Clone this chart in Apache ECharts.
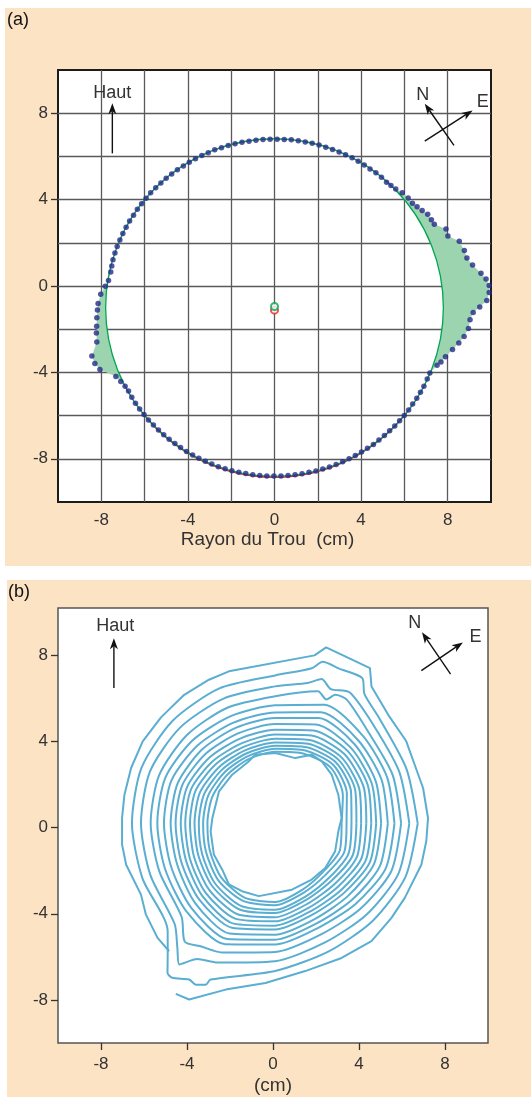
<!DOCTYPE html>
<html>
<head>
<meta charset="utf-8">
<script src="https://cdn.jsdelivr.net/npm/echarts@6/dist/echarts.min.js"></script>
<style>
  html, body { margin: 0; padding: 0; background: #fff; }
  #wrap { position: relative; width: 531px; height: 1097px; overflow: hidden; }
  .panel { position: absolute; background: #fce3c3; }
  #chart { position: absolute; left: 0; top: 0; width: 531px; height: 1097px; }
</style>
</head>
<body>
<div id="wrap">
  <div class="panel" style="left:5px;top:8px;width:526px;height:558px"></div>
  <div class="panel" style="left:7px;top:580px;width:524px;height:517px"></div>
  <div id="chart"></div>
</div>
<script>
// ---------- (a) measured hole profile vs fitted circle ----------
const fitCenter = [0, -1.0];       // centre of the fitted circle (cm)
const fitRadius = 7.8;             // radius of the fitted circle (cm)
const altCenter = [0, -1.12];      // second estimate of the centre (red)
const altRadius = 7.72;
const fitCenterMark = [0, -0.95];

// profile readings: polar angle (deg, about fitCenter) and radius (cm)
const profileAngle = [
  0.2, 1.9, 4.0, 5.9, 7.7, 9.5, 12.2, 14.5, 16.8, 19.8, 22.5, 24.7, 27.6, 29.3, 31.4, 33.4, 35.3, 37.2, 39.4, 42.0, 44.4, 46.4, 48.3,
  50.7, 53.1, 55.5, 57.9, 60.3, 62.7, 65.1, 67.5, 69.9, 72.3, 74.7, 77.1, 79.5, 81.9, 84.3, 86.7, 89.1, 91.5, 93.9, 96.3, 98.7,
  101.1, 103.5, 105.9, 108.3, 110.7, 113.1, 115.5, 117.9, 120.3, 122.7, 125.1, 127.5, 129.9, 132.3, 134.7, 137.1, 139.5, 141.9,
  144.3, 146.7, 149.1, 151.5, 153.9, 156.3, 158.7, 161.1, 163.5, 165.6,
  167.7, 170.7, 172.8, 175.6, 178.7, 180.8, 183.3, 186.0, 188.1, 191.0, 194.9, 197.3, 199.6, 203.5, 205.7, 207.8, 209.8, 212.2,
  214.6, 217.0, 219.4, 221.8, 224.2, 226.6, 229.0, 231.4, 233.8, 236.2, 238.6, 241.0, 243.4, 245.8, 248.2, 250.6, 253.0, 255.4,
  257.8, 260.2, 262.6, 265.0, 267.4, 269.8, 272.2, 274.6, 277.0, 279.4, 281.8, 284.2, 286.6, 289.0, 291.4, 293.8, 296.2, 298.6,
  301.0, 303.4, 305.8, 308.2, 310.6, 313.0, 315.4, 317.8, 320.2, 322.6, 325.0, 327.4, 329.8, 332.2,
  334.9, 337.1, 340.4, 341.9, 343.9, 346.7, 349.1, 351.3, 353.8, 356.4, 358.6
];
const profileRadius = [
  9.48, 9.81, 9.94, 9.97, 9.86, 9.67, 9.36, 9.18, 9.16, 9.07, 8.67, 8.72, 8.33, 8.31, 8.29, 8.17, 8.07, 8.00, 7.99, 7.94, 7.84, 7.80, 7.78,
  7.80, 7.80, 7.79, 7.80, 7.80, 7.81, 7.80, 7.80, 7.80, 7.79, 7.80, 7.80, 7.80, 7.80, 7.81, 7.80, 7.80, 7.80, 7.80, 7.80, 7.79,
  7.80, 7.80, 7.80, 7.80, 7.81, 7.80, 7.80, 7.80, 7.80, 7.79, 7.80, 7.80, 7.80, 7.80, 7.80, 7.81, 7.80, 7.80,
  7.80, 7.79, 7.80, 7.80, 7.80, 7.80, 7.80, 7.79, 7.78, 7.76,
  7.74, 7.77, 7.88, 8.05, 8.15, 8.18, 8.22, 8.26, 8.31, 8.36, 8.73, 8.69, 8.56, 7.99, 7.88, 7.80, 7.77, 7.79,
  7.80, 7.80, 7.80, 7.81, 7.80, 7.80, 7.80, 7.80, 7.79, 7.80, 7.80, 7.80, 7.80, 7.80, 7.80, 7.81, 7.80, 7.80,
  7.80, 7.80, 7.80, 7.80, 7.81, 7.80, 7.80, 7.80, 7.80, 7.80, 7.79, 7.80, 7.80, 7.80, 7.80, 7.80, 7.80, 7.80,
  7.80, 7.80, 7.81, 7.80, 7.80, 7.80, 7.80, 7.80, 7.80, 7.80, 7.79, 7.80, 7.80, 7.80,
  7.79, 7.79, 7.97, 8.09, 8.22, 8.45, 8.67, 8.86, 9.01, 9.05, 9.18
];
// angular spans (deg) where the wall lies outside the fitted circle
const bulgeSpans = [[-22.9, 46.4], [167.7, 212.2]];
const tickValues = [-8, -4, 0, 4, 8];

// ---------- (b) successive wall contours ----------
// innermost and outermost contours as x, y points (cm)
const ring01 = [
  [3.19, 0.45], [3.04, 1.53], [2.73, 2.46], [2.27, 3.08], [1.8, 3.39], [1.04, 3.23], [0.11, 3.47], [-0.82, 3.39],
  [-1.16, 3.05], [-1.9, 2.46], [-2.51, 1.69], [-2.82, 0.45], [-2.9, -0.17], [-2.75, -1.25], [-2.36, -1.95],
  [-2.05, -2.64], [-1.44, -2.95], [-0.66, -3.18], [0.88, -2.88], [1.8, -2.41], [2.43, -1.87], [2.89, -1.1],
  [3.04, -0.17], [3.19, 0.45]
];
const ring16 = [
  [-4.52, -7.72], [-3.9, -7.98], [-2.2, -7.52], [-0.35, -7.21], [1.5, -6.66], [3.19, -6.05], [4.58, -5.27],
  [5.51, -4.19], [6.13, -3.26], [6.9, -1.72], [7.13, -0.63], [7.21, 0.45], [6.98, 1.84], [6.59, 2.92],
  [6.2, 4.01], [5.36, 5.24], [4.58, 6.56], [4.51, 7.41], [2.47, 8.37], [1.93, 8.0], [-2.05, 7.26],
  [-2.98, 6.87], [-4.13, 6.17], [-5.21, 5.12], [-6.06, 4.01], [-6.6, 2.77], [-6.91, 1.53], [-7.02, 0.45],
  [-7.02, -0.79], [-6.83, -1.72], [-6.14, -3.11], [-5.91, -4.04], [-5.37, -5.12], [-4.83, -5.74]
];
// intermediate contours: radius (cm) about ringCenter along ringAngles (deg)
const ringCenter = [0.1, 0.2];
const ringAngles = [0, 22.5, 45, 67.5, 90, 112.5, 135, 157.5, 180, 202.5, 225, 247.5, 270, 292.5, 315, 337.5];
const ring02 = [3.09, 3.41, 3.66, 3.50, 3.32, 3.23, 3.17, 3.17, 3.15, 3.29, 3.55, 3.73, 3.65, 3.33, 3.17, 3.26];
const ring03 = [3.32, 3.61, 3.83, 3.66, 3.46, 3.37, 3.34, 3.37, 3.35, 3.48, 3.74, 3.90, 3.80, 3.48, 3.35, 3.48];
const ring04 = [3.55, 3.82, 4.00, 3.82, 3.60, 3.51, 3.51, 3.57, 3.55, 3.68, 3.95, 4.15, 4.01, 3.68, 3.56, 3.69];
const ring05 = [3.78, 4.03, 4.17, 4.00, 3.76, 3.67, 3.69, 3.78, 3.75, 3.87, 4.13, 4.33, 4.16, 3.83, 3.74, 3.90];
const ring06 = [4.00, 4.23, 4.35, 4.19, 3.93, 3.84, 3.89, 4.00, 3.96, 4.08, 4.35, 4.57, 4.36, 4.02, 3.95, 4.11];
const ring07 = [4.24, 4.45, 4.55, 4.41, 4.12, 4.03, 4.09, 4.22, 4.18, 4.29, 4.57, 4.80, 4.55, 4.21, 4.15, 4.33];
const ring08 = [4.47, 4.66, 4.76, 4.67, 4.35, 4.26, 4.32, 4.43, 4.39, 4.49, 4.78, 5.04, 4.75, 4.40, 4.36, 4.55];
const ring09 = [4.70, 4.86, 4.97, 4.97, 4.61, 4.52, 4.57, 4.67, 4.63, 4.72, 5.00, 5.25, 4.93, 4.58, 4.55, 4.76];
const ring10 = [4.93, 5.07, 5.21, 5.29, 4.89, 4.80, 4.83, 4.90, 4.86, 4.94, 5.25, 5.54, 5.17, 4.81, 4.78, 4.97];
const ring11 = [5.24, 5.35, 5.46, 5.58, 5.15, 5.06, 5.11, 5.22, 5.17, 5.24, 5.53, 5.81, 5.40, 5.03, 5.04, 5.26];
const ring12 = [5.55, 5.63, 5.76, 5.96, 5.48, 5.39, 5.44, 5.53, 5.48, 5.54, 5.81, 6.08, 5.63, 5.25, 5.29, 5.55];
const ring13 = [5.86, 5.91, 6.08, 6.22, 5.90, 5.81, 5.80, 5.84, 5.79, 5.83, 6.15, 6.49, 5.97, 5.58, 5.61, 5.84];
const ring14 = [6.24, 6.25, 6.46, 6.75, 6.36, 6.27, 6.27, 6.30, 6.24, 6.28, 6.61, 7.00, 6.40, 6.00, 6.00, 6.19];
const ring15 = [6.63, 6.61, 6.87, 7.78, 6.87, 6.78, 6.74, 6.73, 6.66, 6.68, 7.07, 7.85, 6.86, 6.45, 6.41, 6.55];
// extra [angle, radius] vertices: the notch near the top and the kinks at lower left
const ring13Extra = [[59.9, 6.64], [64.9, 6.59], [72.0, 6.45], [232.6, 6.92], [238.4, 6.69]];
const ring14Extra = [[60.4, 7.00], [72.1, 7.04], [77.0, 6.69], [231.9, 7.37], [235.8, 7.92], [240.1, 7.27]];
const ring15Extra = [[55.3, 7.30], [59.0, 7.87], [73.6, 7.82], [76.7, 7.40],
  [230.7, 7.89], [234.2, 8.56], [236.3, 8.62], [241.1, 8.28], [243.8, 8.35], [246.7, 8.16]];
const polarRings = [
  [ring02], [ring03], [ring04], [ring05], [ring06], [ring07], [ring08], [ring09],
  [ring10], [ring11], [ring12], [ring13, ring13Extra], [ring14, ring14Extra], [ring15, ring15Extra]
];

// ---------- build ----------
const rad = d => d * Math.PI / 180;
const polar = (c, r, a) => [c[0] + r * Math.cos(rad(a)), c[1] + r * Math.sin(rad(a))];
const profilePts = profileAngle.map((a, i) => polar(fitCenter, profileRadius[i], a));

function bulgePolygon(span) {
  const [from, to] = span;
  const pts = [];
  profileAngle.forEach((a, i) => {
    const aa = (from < 0 && a > 180) ? a - 360 : a;
    if (aa >= from && aa <= to) pts.push([aa, profilePts[i]]);
  });
  pts.sort((p, q) => p[0] - q[0]);
  const poly = pts.map(p => p[1]);
  for (let a = to; a >= from; a -= 1) poly.push(polar(fitCenter, fitRadius, a));
  return poly;
}
const bulgePolys = bulgeSpans.map(bulgePolygon);

function ringPoints([radii, extra]) {
  const pairs = radii.map((r, i) => [ringAngles[i], r]).concat(extra || []);
  pairs.sort((p, q) => p[0] - q[0]);
  const pts = pairs.map(([a, r]) => polar(ringCenter, r, a));
  pts.push(pts[0]);
  return pts;
}
const rings = [ring01, ...polarRings.map(ringPoints), ring16];

const FONT = 'Liberation Sans';
const TXT = '#333333';
const labelStyle = { fontSize: 17, fontFamily: FONT, color: TXT };
const tickStyle = { show: true, customValues: tickValues, length: 7, lineStyle: { color: '#333', width: 1.3 } };
const gridLines = { show: true, showMinLine: false, showMaxLine: false, lineStyle: { color: '#5a5a5a', width: 1.3 } };

const chart = echarts.init(document.getElementById('chart'), null, { renderer: 'canvas' });

const option = {
  animation: false,
  grid: [
    { left: 58, top: 70, width: 433, height: 432, show: true, backgroundColor: '#ffffff',
      borderColor: '#1c1c1c', borderWidth: 2, outerBoundsMode: 'none' },
    { left: 58, top: 608, width: 430, height: 435, show: true, backgroundColor: '#ffffff',
      borderColor: '#555555', borderWidth: 1.5, outerBoundsMode: 'none' }
  ],
  xAxis: [
    { gridIndex: 0, type: 'value', min: -10, max: 10, position: 'bottom',
      axisLine: { show: false, onZero: false }, axisTick: { show: false }, splitLine: { show: false },
      axisLabel: Object.assign({ customValues: tickValues, margin: 10 }, labelStyle),
      name: 'Rayon du Trou  (cm)', nameLocation: 'middle', nameGap: 28,
      nameTextStyle: { fontSize: 19, fontFamily: FONT, color: TXT, padding: [0, 14, 0, 0] } },
    { gridIndex: 0, type: 'value', min: -10, max: 10, interval: 2, position: 'top',
      axisLine: { show: false, onZero: false }, axisTick: { show: false }, axisLabel: { show: false },
      splitLine: gridLines },
    { gridIndex: 1, type: 'value', min: -10, max: 10, position: 'bottom',
      axisLine: { show: false, onZero: false }, splitLine: { show: false },
      axisTick: tickStyle,
      axisLabel: Object.assign({ customValues: tickValues, margin: 13 }, labelStyle),
      name: '(cm)', nameLocation: 'middle', nameGap: 33,
      nameTextStyle: { fontSize: 19, fontFamily: FONT, color: TXT } }
  ],
  yAxis: [
    { gridIndex: 0, type: 'value', min: -10, max: 10, position: 'left',
      axisLine: { show: false, onZero: false }, splitLine: { show: false },
      axisTick: tickStyle,
      axisLabel: Object.assign({ customValues: tickValues, margin: 10 }, labelStyle) },
    { gridIndex: 0, type: 'value', min: -10, max: 10, interval: 2, position: 'right',
      axisLine: { show: false, onZero: false }, axisTick: { show: false }, axisLabel: { show: false },
      splitLine: gridLines },
    { gridIndex: 1, type: 'value', min: -10, max: 10.2, position: 'left',
      axisLine: { show: false, onZero: false }, splitLine: { show: false },
      axisTick: tickStyle,
      axisLabel: Object.assign({ customValues: tickValues, margin: 10 }, labelStyle) }
  ],
  series: [
    { type: 'custom', xAxisIndex: 0, yAxisIndex: 0, z: 2,
      data: bulgePolys.map((p, i) => [i, 0]),
      renderItem: (params, api) => ({
        type: 'polygon',
        shape: { points: bulgePolys[params.dataIndex].map(p => api.coord(p)) },
        style: { fill: '#9dd4b0', stroke: 'none' }
      }) },
    { type: 'custom', xAxisIndex: 0, yAxisIndex: 0, z: 3, data: [altCenter],
      renderItem: (params, api) => {
        const c = api.coord(altCenter);
        return { type: 'arc',
          shape: { cx: c[0], cy: c[1], r: api.size([altRadius, 0])[0], startAngle: rad(38), endAngle: rad(142), clockwise: true },
          style: { stroke: '#ec2227', fill: 'none', lineWidth: 1.5 } };
      } },
    { type: 'custom', xAxisIndex: 0, yAxisIndex: 0, z: 4, data: [fitCenter],
      renderItem: (params, api) => {
        const c = api.coord(fitCenter);
        return { type: 'circle',
          shape: { cx: c[0], cy: c[1], r: api.size([fitRadius, 0])[0] },
          style: { stroke: '#00a651', fill: 'none', lineWidth: 1.3 } };
      } },
    { type: 'scatter', xAxisIndex: 0, yAxisIndex: 0, z: 5, data: profilePts,
      symbol: 'circle', symbolSize: 5.5, itemStyle: { color: '#262a88' } },
    { type: 'scatter', xAxisIndex: 0, yAxisIndex: 0, z: 6, data: [altCenter],
      symbol: 'emptyCircle', symbolSize: 7, itemStyle: { color: '#ec2227', borderWidth: 1.3 } },
    { type: 'scatter', xAxisIndex: 0, yAxisIndex: 0, z: 6, data: [fitCenterMark],
      symbol: 'emptyCircle', symbolSize: 7, itemStyle: { color: '#00a651', borderWidth: 1.3 } },
    ...rings.map((r, i) => ({
      type: 'line', xAxisIndex: 2, yAxisIndex: 2, data: r, showSymbol: false, symbol: 'none',
      smooth: (i > 0 && i < rings.length - 1) ? 0.25 : false,
      lineStyle: { color: '#5aaed1', width: 2 }, z: 3
    }))
  ]
};
chart.setOption(option);

// ---------- annotations (up / north / east markers) ----------
function arrow(g, from, to) {
  const p0 = chart.convertToPixel({ gridIndex: g }, from);
  const p1 = chart.convertToPixel({ gridIndex: g }, to);
  const dx = p1[0] - p0[0], dy = p1[1] - p0[1];
  const L = Math.hypot(dx, dy), ux = dx / L, uy = dy / L, nx = -uy, ny = ux;
  const back = [p1[0] - ux * 11, p1[1] - uy * 11];
  const notch = [p1[0] - ux * 8, p1[1] - uy * 8];
  return [
    { type: 'line', shape: { x1: p0[0], y1: p0[1], x2: notch[0], y2: notch[1] },
      style: { stroke: '#111', lineWidth: 1.4 }, z: 50 },
    { type: 'polygon', shape: { points: [p1, [back[0] + nx * 4, back[1] + ny * 4], notch, [back[0] - nx * 4, back[1] - ny * 4]] },
      style: { fill: '#111' }, z: 50 }
  ];
}
function label(g, at, text) {
  const p = chart.convertToPixel({ gridIndex: g }, at);
  return { type: 'text', x: p[0], y: p[1], z: 50,
    style: { text, fontSize: 18, fontFamily: FONT, fill: TXT, align: 'center', verticalAlign: 'middle' } };
}
const elements = [
  { type: 'text', x: 7, y: 20, style: { text: '(a)', fontSize: 18, fontFamily: FONT, fill: '#111', verticalAlign: 'middle' } },
  { type: 'text', x: 8, y: 592, style: { text: '(b)', fontSize: 18, fontFamily: FONT, fill: '#111', verticalAlign: 'middle' } },
  label(0, [-7.49, 8.92], 'Haut'),
  ...arrow(0, [-7.49, 6.14], [-7.49, 8.46]),
  label(0, [6.85, 8.83], 'N'),
  label(0, [9.62, 8.52], 'E'),
  ...arrow(0, [8.29, 6.51], [6.94, 8.44]),
  ...arrow(0, [6.94, 6.71], [9.15, 8.13]),
  label(1, [-7.34, 9.36], 'Haut'),
  ...arrow(1, [-7.4, 6.48], [-7.4, 8.8]),
  label(1, [6.59, 9.5], 'N'),
  label(1, [9.42, 8.84], 'E'),
  ...arrow(1, [8.26, 7.13], [6.93, 9.07]),
  ...arrow(1, [6.9, 7.29], [8.83, 8.6])
];
chart.setOption({ graphic: { elements } });
</script>
</body>
</html>
